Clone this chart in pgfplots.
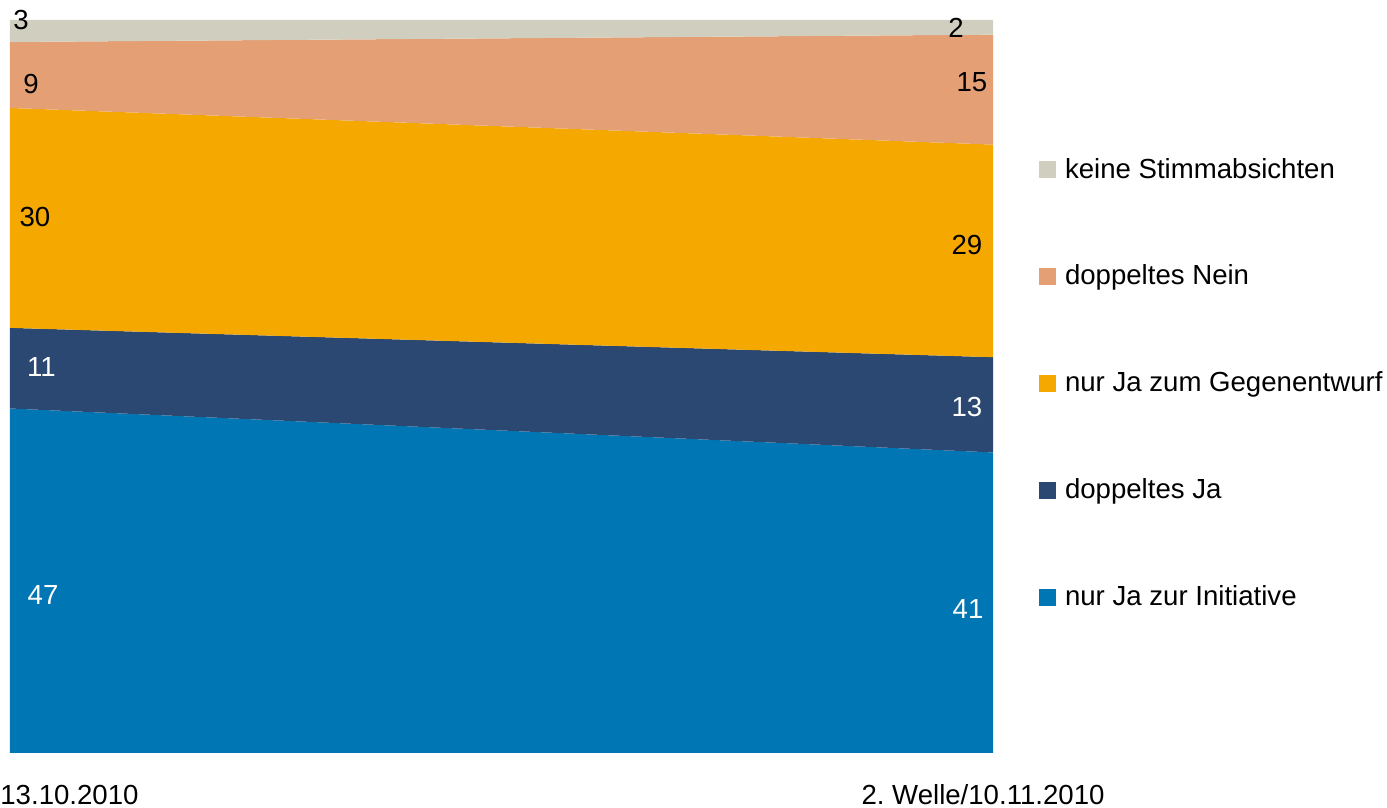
\documentclass[border=0pt]{standalone}
\usepackage{pgfplots}
\pgfplotsset{compat=1.18}
\usepackage{fontspec}
\setmainfont{Liberation Sans}
\newcommand\lf{\fontsize{13.8pt}{16pt}\selectfont}
\definecolor{cNone}{HTML}{D0CFBF}
\definecolor{cNein}{HTML}{E49F75}
\definecolor{cGeg}{HTML}{F5A800}
\definecolor{cJaJa}{HTML}{2B4872}
\definecolor{cIni}{HTML}{0077B4}
\begin{document}
\begin{tikzpicture}
\useasboundingbox (0,0) rectangle (693.5pt,404pt);
\begin{axis}[
  at={(5pt,27.5pt)}, anchor=south west,
  scale only axis, width=491.5pt, height=366.5pt,
  xmin=0, xmax=1, ymin=0, ymax=100,
  axis line style={draw=none},
  tick style={draw=none},
  major tick length=0pt,
  ytick=\empty,
  xtick={0}, xticklabels={13.10.2010},
  xticklabel style={font=\lf, anchor=base west, inner sep=0pt, xshift=-5pt, yshift=-26pt},
  extra x ticks={1}, extra x tick labels={2.\ Welle/10.11.2010},
  extra x tick style={xticklabel style={anchor=base, xshift=0pt}},
  reverse legend,
  legend image code/.code={\fill[#1] (0pt,-3.5pt) rectangle (8.5pt,5pt);},
  legend style={at={(rel axis cs:1.0468,0.8117)}, anchor=north west,
    draw=none, fill=none, inner sep=0pt, outer sep=0pt,
    font=\lf, row sep=40.45pt, column sep=4.5pt,
    nodes={inner sep=0pt, text height=10pt, text depth=3pt}},
  legend cell align=left,
  clip=false,
]
% cumulative boundaries: left 0,47,58,88,97,100 ; right 0,41,54,83,98,100
\addplot[fill=cIni, draw=none] coordinates {(0,0) (1,0) (1,41) (0,47)} -- cycle;
\addlegendentry{nur Ja zur Initiative}
\addplot[fill=cJaJa, draw=none] coordinates {(0,47) (1,41) (1,54) (0,58)} -- cycle;
\addlegendentry{doppeltes Ja}
\addplot[fill=cGeg, draw=none] coordinates {(0,58) (1,54) (1,83) (0,88)} -- cycle;
\addlegendentry{nur Ja zum Gegenentwurf}
\addplot[fill=cNein, draw=none] coordinates {(0,88) (1,83) (1,98) (0,97)} -- cycle;
\addlegendentry{doppeltes Nein}
\addplot[fill=cNone, draw=none] coordinates {(0,97) (1,98) (1,100) (0,100)} -- cycle;
\addlegendentry{keine Stimmabsichten}

\begin{scope}[every node/.style={font=\lf, inner sep=0pt}]
\node[black] at (axis cs:0.0112,100.0) {3};
\node[black] at (axis cs:0.0214,91.3) {9};
\node[black] at (axis cs:0.0254,73.1) {30};
\node[white] at (axis cs:0.032,52.6) {11};
\node[white] at (axis cs:0.0336,21.6) {47};
\node[black] at (axis cs:0.9624,98.97) {2};
\node[black] at (axis cs:0.9786,91.5) {15};
\node[black] at (axis cs:0.9735,69.3) {29};
\node[white] at (axis cs:0.9735,47.2) {13};
\node[white] at (axis cs:0.9746,19.6) {41};
\end{scope}
\end{axis}
\end{tikzpicture}
\end{document}
